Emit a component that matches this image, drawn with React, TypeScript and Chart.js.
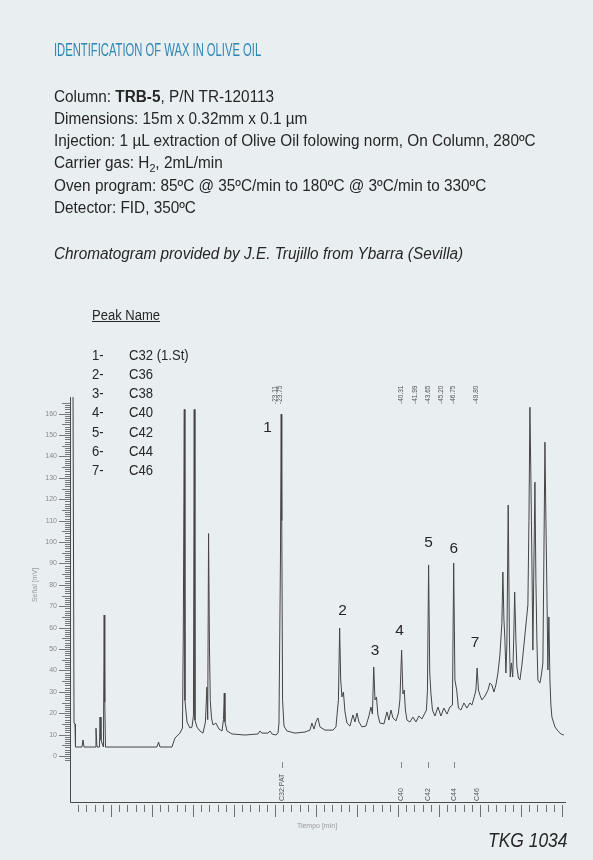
import React, { useEffect, useRef } from "react";
import { Chart, registerables } from "chart.js";

Chart.register(...registerables);

// ---------- DATA ----------
// retention time (min)
const times = [
  0.37, 0.49, 0.61, 0.67, 1.46, 1.59, 1.71, 3.05, 3.17, 3.29, 3.6, 3.66, 3.78, 4.08, 4.17, 4.24, 4.33,
  10.6, 10.8, 10.98, 12.44, 12.8, 13.41, 13.72, 13.82, 13.94, 14.02, 14.27, 14.63, 14.88, 15.06, 15.15,
  15.24, 15.49, 15.85, 16.22, 16.52, 16.7, 16.8, 16.9, 17.01, 17.11, 17.26, 17.44, 17.8, 18.17, 18.54,
  18.72, 18.82, 18.9, 19.15, 19.76, 21.34, 22.93, 23.17, 23.41, 24.15, 24.39, 24.63, 25.12, 25.37, 25.49,
  25.67, 25.76, 25.83, 25.93, 26.1, 26.46, 27.44, 28.66, 29.27, 29.51, 29.76, 30.0, 30.24, 30.49, 31.1,
  32.07, 32.44, 32.74, 32.89, 33.02, 33.17, 33.35, 33.54, 33.78, 34.15, 34.51, 34.76, 35.0, 35.24, 35.61,
  36.1, 36.46, 36.71, 36.89, 37.05, 37.2, 37.38, 37.56, 37.8, 38.29, 38.66, 38.9, 39.15, 39.39, 39.76,
  40.06, 40.24, 40.45, 40.61, 40.77, 40.91, 41.1, 41.46, 41.83, 42.2, 42.56, 42.93, 43.29, 43.48, 43.6,
  43.74, 43.88, 44.02, 44.21, 44.51, 44.88, 45.24, 45.61, 45.98, 46.34, 46.65, 46.8, 46.95, 47.17, 47.38,
  47.68, 48.05, 48.41, 48.78, 49.02, 49.33, 49.51, 49.66, 49.82, 50.0, 50.24, 50.61, 50.98, 51.22, 51.46,
  51.71, 51.95, 52.2, 52.44, 52.68, 52.8, 52.93, 53.05, 53.17, 53.29, 53.45, 53.6, 53.7, 53.84, 54.0,
  54.12, 54.24, 54.39, 54.51, 54.7, 54.88, 55.12, 55.37, 55.67, 55.85, 55.98, 56.1, 56.22, 56.34, 56.46,
  56.59, 56.71, 56.83, 56.95, 57.07, 57.32, 57.5, 57.68, 57.8, 57.93, 58.05, 58.17, 58.29, 58.41, 58.54,
  58.66, 58.78, 59.15, 59.51, 59.88, 60.24,
];
// detector signal
const signal = [
  170, 15.4, 15.0, 4.2, 4.2, 7.5, 4.2, 4.2, 13.0, 4.2, 4.2, 18.2, 7.5, 4.2, 65.9, 25.2, 4.2,
  4.2, 6.5, 4.2, 4.2, 8.4, 10.7, 13.1, 57.5, 162, 26, 15.9, 13.1, 13.5, 19, 162,
  16.8, 13.5, 11.7, 10.7, 15.9, 32.2, 17, 104, 51, 26, 17.8, 14.5, 15.4, 12.6, 11.7,
  17, 29.4, 16, 11.7, 10.3, 9.8, 10.3, 11.7, 10.7, 10.7, 11.7, 10.3, 9.8, 10.7, 15.4,
  91.6, 159.8, 110, 26, 14, 11.7, 10.7, 11.2, 12.1, 15.4, 12.6, 15.9, 17.8, 13.6, 12.1,
  12.1, 13.6, 26.2, 59.8, 35.5, 27.6, 29.9, 20.6, 15.4, 14, 19.2, 15.9, 20.1, 15.9, 13.6,
  14, 18.7, 22.9, 19.6, 41.6, 26.2, 27.6, 19.2, 15.4, 15, 20.6, 16.8, 21.5, 17.8, 16.4,
  20.1, 26.2, 49.5, 29, 30.8, 21.5, 16.8, 15.9, 18.2, 15.9, 18.7, 17.3, 20.1, 21.5, 30.8,
  89.3, 38.8, 29.4, 21.5, 18.7, 22.9, 18.7, 22.4, 19.6, 22.9, 23.8, 90.2, 35.5, 30.8, 22.4,
  21.5, 24.8, 22.4, 24.8, 23.8, 28, 30.8, 41.1, 30.8, 28.5, 26.2, 28, 30.8, 34.1, 33.2,
  29.9, 33.2, 38.8, 47.2, 62.1, 86, 63.6, 54.2, 38.8, 51.9, 117.3, 54.2, 36.9, 43.5, 36.9,
  54.2, 76.6, 54.2, 41.6, 36.4, 35.5, 42.5, 51.9, 63.6, 70.6, 110, 163, 129, 91.6, 49.5,
  91.6, 128, 82, 54.2, 35.5, 34.1, 37.9, 43.5, 91.6, 146.7, 110, 77.6, 40.2, 65, 35.5,
  23.8, 18.2, 13.6, 11.7, 10.3, 9.8,
];

// numbered peaks (apex)
const peakNumbers = ["1", "2", "3", "4", "5", "6", "7"];
const peakTimes = [25.76, 32.89, 37.05, 40.45, 43.74, 46.8, 49.66];
const peakHeights = [159.8, 59.8, 41.6, 49.5, 89.3, 90.2, 41.1];
const peakNames = ["C32 (1.St)", "C36", "C38", "C40", "C42", "C44", "C46"];

// retention-time marks printed above the trace
const rtTexts = ["23.11", "23.75", "40.31", "41.99", "43.65", "45.20", "46.75", "49.80"];
const rtTimes = [25.0, 25.7, 40.45, 42.07, 43.7, 45.24, 46.74, 49.5];

// component marks under the baseline
const compTexts = ["C32:PAT", "C40", "C42", "C44", "C46"];
const compTimes = [25.85, 40.33, 43.66, 46.83, 49.63];

// axis ticks
const yTickLabels = [0, 10, 20, 30, 40, 50, 60, 70, 80, 90, 100, 110, 120, 130, 140, 150, 160];
const xMinutes = [
  1, 2, 3, 4, 5, 6, 7, 8, 9, 10, 11, 12, 13, 14, 15, 16, 17, 18, 19, 20, 21, 22, 23, 24, 25, 26, 27, 28, 29, 30,
  31, 32, 33, 34, 35, 36, 37, 38, 39, 40, 41, 42, 43, 44, 45, 46, 47, 48, 49, 50, 51, 52, 53, 54, 55, 56, 57, 58, 59, 60,
];
const xTitle = "Tiempo [min]";
const yTitle = "Señal [mV]";

// ---------- STYLE ----------
const BG = "#e9eef1";
const FONT = '"Liberation Sans", Arial, sans-serif';
const labelDX = [-13.7, 2.8, 1.2, -2.2, 0, 0, -2];
const labelDY = [13.5, -17, -16, -19, -22, -14.5, -25];

const overlay = {
  id: "overlay",
  afterDatasetsDraw(chart: any) {
    const { ctx, chartArea, scales } = chart;
    const { left, right, top, bottom } = chartArea;
    const x = scales.x;
    const y = scales.y;
    ctx.save();

    // axes lines
    ctx.strokeStyle = "#4a4a4a";
    ctx.lineWidth = 1;
    ctx.beginPath();
    ctx.moveTo(left + 0.5, top);
    ctx.lineTo(left + 0.5, bottom + 0.5);
    ctx.lineTo(right, bottom + 0.5);
    ctx.stroke();

    // y ruler
    ctx.strokeStyle = "rgba(80,80,80,0.75)";
    for (let v = -2; v <= 165; v++) {
      const py = Math.round(y.getPixelForValue(v)) + 0.5;
      const len = v % 10 === 0 ? 11 : v % 5 === 0 ? 8 : 5;
      ctx.beginPath();
      ctx.moveTo(left - len, py);
      ctx.lineTo(left, py);
      ctx.stroke();
    }
    ctx.font = `7px ${FONT}`;
    ctx.fillStyle = "#8a8a8a";
    ctx.textAlign = "right";
    ctx.textBaseline = "middle";
    yTickLabels.forEach((v) => {
      ctx.fillText(String(v), left - 13, y.getPixelForValue(v));
    });

    // x ticks
    ctx.strokeStyle = "rgba(80,80,80,0.8)";
    xMinutes.forEach((m) => {
      const px = Math.round(x.getPixelForValue(m)) + 0.5;
      const len = m % 5 === 0 ? 12 : 7;
      ctx.beginPath();
      ctx.moveTo(px, bottom + 3);
      ctx.lineTo(px, bottom + 3 + len);
      ctx.stroke();
    });

    // axis titles
    ctx.fillStyle = "#9a9a9a";
    ctx.font = `7px ${FONT}`;
    ctx.textAlign = "center";
    ctx.fillText(xTitle, 317, bottom + 24);
    ctx.save();
    ctx.translate(35, 585);
    ctx.rotate(-Math.PI / 2);
    ctx.fillText(yTitle, 0, 0);
    ctx.restore();

    // retention time marks
    ctx.fillStyle = "#555";
    ctx.font = `6.5px ${FONT}`;
    ctx.textAlign = "left";
    ctx.textBaseline = "middle";
    rtTexts.forEach((t, i) => {
      ctx.save();
      ctx.translate(x.getPixelForValue(rtTimes[i]), 404);
      ctx.rotate(-Math.PI / 2);
      ctx.fillText("-" + t, 0, 0);
      ctx.restore();
    });

    // component marks
    ctx.font = `7px ${FONT}`;
    ctx.fillStyle = "#555";
    compTexts.forEach((t, i) => {
      const px = x.getPixelForValue(compTimes[i]);
      ctx.save();
      ctx.translate(px, bottom - 1);
      ctx.rotate(-Math.PI / 2);
      ctx.fillText(t, 0, 0);
      ctx.restore();
      if (i < 4) {
        ctx.strokeStyle = "rgba(90,90,90,0.7)";
        ctx.beginPath();
        ctx.moveTo(Math.round(px) + 0.5, 762);
        ctx.lineTo(Math.round(px) + 0.5, 768);
        ctx.stroke();
      }
    });

    // peak numbers
    ctx.fillStyle = "#262626";
    ctx.font = `15.4px ${FONT}`;
    ctx.textAlign = "center";
    ctx.textBaseline = "middle";
    peakNumbers.forEach((n, i) => {
      const px = x.getPixelForValue(peakTimes[i]) + labelDX[i];
      const py = y.getPixelForValue(peakHeights[i]) + labelDY[i];
      ctx.fillText(n, px, py);
    });

    ctx.restore();
  },
};

function Txt(props: any) {
  const { left, baseline, size, children, style } = props;
  return (
    <div
      style={{
        position: "absolute",
        left,
        top: baseline - 0.847 * size,
        fontSize: size,
        lineHeight: `${size}px`,
        fontFamily: FONT,
        whiteSpace: "nowrap",
        color: "#262626",
        transformOrigin: "left top",
        zIndex: 2,
        ...style,
      }}
    >
      {children}
    </div>
  );
}

export default function App() {
  const ref = useRef<HTMLCanvasElement>(null);

  useEffect(() => {
    document.body.style.margin = "0";
    document.body.style.background = BG;
    const chart = new Chart(ref.current as HTMLCanvasElement, {
      type: "line",
      data: {
        datasets: [
          {
            data: times.map((t, i) => ({ x: t, y: signal[i] })),
            borderColor: "#444444",
            borderWidth: 1,
            pointRadius: 0,
            tension: 0,
            fill: false,
          },
        ],
      },
      options: {
        animation: false,
        responsive: false,
        events: [],
        layout: { padding: { left: 70, right: 27, top: 397, bottom: 58 } },
        scales: {
          x: { type: "linear", min: 0, max: 60.5, display: false },
          y: { type: "linear", min: -21.5, max: 167.8, display: false },
        },
        plugins: { legend: { display: false }, tooltip: { enabled: false } },
      },
      plugins: [overlay],
    } as any);
    return () => chart.destroy();
  }, []);

  const body = 16;
  const bs = { transform: "scaleX(0.958)" };
  return (
    <div style={{ position: "relative", width: 593, height: 860, background: BG, overflow: "hidden" }}>
      <canvas ref={ref} width={593} height={860} style={{ position: "absolute", left: 0, top: 0, width: 593, height: 860 }} />
      <Txt left={54} baseline={56.7} size={17.7} style={{ color: "#2f86b3", transform: "scaleX(0.635)" }}>
        IDENTIFICATION OF WAX IN OLIVE OIL
      </Txt>
      <Txt left={54} baseline={102.3} size={body} style={bs}>
        Column: <b>TRB-5</b>, P/N TR-120113
      </Txt>
      <Txt left={54} baseline={124.5} size={body} style={bs}>
        Dimensions: 15m x 0.32mm x 0.1 µm
      </Txt>
      <Txt left={54} baseline={146.7} size={body} style={bs}>
        Injection: 1 µL extraction of Olive Oil folowing norm, On Column, 280ºC
      </Txt>
      <Txt left={54} baseline={168.9} size={body} style={bs}>
        Carrier gas: H<span style={{ fontSize: "0.7em", position: "relative", top: "0.3em" }}>2</span>, 2mL/min
      </Txt>
      <Txt left={54} baseline={191.1} size={body} style={bs}>
        Oven program: 85ºC @ 35ºC/min to 180ºC @ 3ºC/min to 330ºC
      </Txt>
      <Txt left={54} baseline={213.3} size={body} style={bs}>
        Detector: FID, 350ºC
      </Txt>
      <Txt left={54} baseline={259.3} size={body} style={{ ...bs, fontStyle: "italic" }}>
        Chromatogram provided by J.E. Trujillo from Ybarra (Sevilla)
      </Txt>
      <Txt left={92} baseline={320} size={14} style={{ transform: "scaleX(0.93)", textDecoration: "underline" }}>
        Peak Name
      </Txt>
      {peakNames.map((n, i) => (
        <React.Fragment key={n}>
          <Txt left={92} baseline={360 + 19.17 * i} size={15.4} style={{ transform: "scaleX(0.85)" }}>
            {peakNumbers[i]}-
          </Txt>
          <Txt left={129} baseline={360 + 19.17 * i} size={15.4} style={{ transform: "scaleX(0.85)" }}>
            {n}
          </Txt>
        </React.Fragment>
      ))}
      <Txt left={488} baseline={848} size={19.6} style={{ fontStyle: "italic", transform: "scaleX(0.89)" }}>
        TKG 1034
      </Txt>
    </div>
  );
}
